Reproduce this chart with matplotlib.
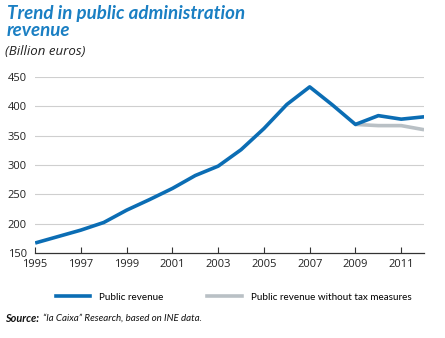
import matplotlib.pyplot as plt
from matplotlib.lines import Line2D

# Ingresos de las administraciones públicas (miles de millones de euros)
anios = list(range(1995, 2013))
ingresos = [167, 178, 189, 202, 223, 241, 260, 282, 298, 326, 362, 403, 433,
            402, 369, 384, 378, 382]
anios_sin = [2009, 2010, 2011, 2012]
ingresos_sin = [369, 367, 367, 360]

etiquetas_x = list(range(1995, 2012, 2))
etiquetas_y = [150, 200, 250, 300, 350, 400, 450]

azul = "#0b6db4"
gris = "#b9c0c5"
fuente = "Open Sans"
fuente2 = "Lato"

fig = plt.figure(figsize=(4.45, 3.38), dpi=100)
ax = fig.add_axes([0.079, 0.2515, 0.874, 0.521])

ax.plot(anios_sin, ingresos_sin, color=gris, lw=2.6, solid_capstyle="butt", zorder=2)
ax.plot(anios, ingresos, color=azul, lw=2.6, solid_capstyle="butt", zorder=3)

ax.set_xlim(1995, 2012)
ax.set_ylim(150, 450)
ax.set_xticks(etiquetas_x)
ax.set_yticks(etiquetas_y)
ax.set_xticklabels([str(a) for a in etiquetas_x], fontsize=8, family=fuente, color="#222222")
ax.set_yticklabels([str(v) for v in etiquetas_y], fontsize=8, family=fuente, color="#222222")

for v in etiquetas_y[1:]:
    ax.axhline(v, color="#cfcfcf", lw=0.8, zorder=1)

for lado in ["top", "right", "left"]:
    ax.spines[lado].set_visible(False)
ax.spines["bottom"].set_color("#333333")
ax.spines["bottom"].set_linewidth(0.9)
ax.tick_params(axis="x", direction="in", length=4, width=0.8, color="#333333", pad=4)
ax.tick_params(axis="y", length=0, pad=6)

# Título y subtítulo
fig.text(0.016, 0.985, "Trend in public administration\nrevenue", ha="left", va="top",
         fontsize=13.5, fontweight="bold", fontstyle="italic", color="#1a7fc3",
         family=fuente2, linespacing=1.0)
fig.text(0.012, 0.868, "(Billion euros)", ha="left", va="top", fontsize=9.5,
         fontstyle="italic", color="#222222", family=fuente)

# Leyenda
lineas = [Line2D([0], [0], color=azul, lw=2.6), Line2D([0], [0], color=gris, lw=2.6)]
fig.legend(lineas, ["Public revenue", "Public revenue without tax measures"],
           loc="center", bbox_to_anchor=(0.525, 0.121), ncol=2, frameon=False,
           prop={"family": fuente2, "size": 7.1}, handlelength=3.5, columnspacing=4.4,
           handletextpad=0.9)

# Fuente
fig.text(0.012, 0.059, "Source:", ha="left", va="center", fontsize=7.8,
         fontweight="bold", fontstyle="italic", color="#111111", family=fuente2)
fig.text(0.097, 0.059, "\u201cla Caixa\u201d Research, based on INE data.", ha="left",
         va="center", fontsize=7.0, fontstyle="italic", color="#111111", family=fuente2)

fig.savefig("out.png", dpi=100)
